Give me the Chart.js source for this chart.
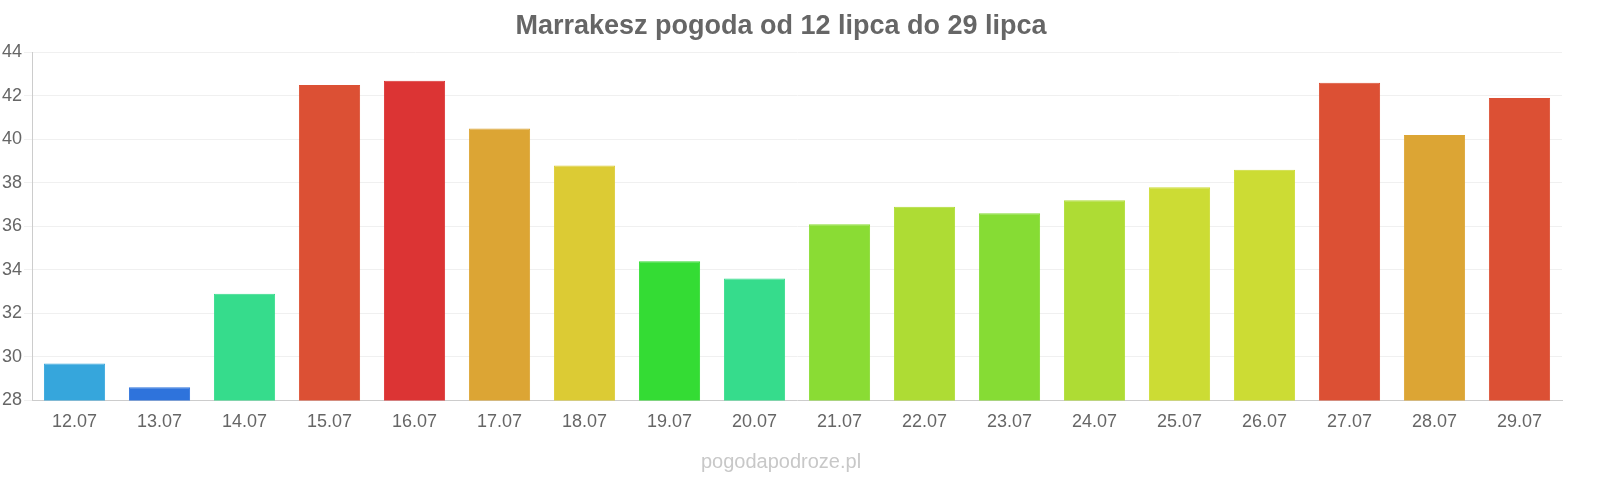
<!DOCTYPE html>
<html><head><meta charset="utf-8">
<script src="https://cdn.jsdelivr.net/npm/chart.js@4/dist/chart.umd.min.js"></script>
<style>html,body{margin:0;padding:0;background:#fff}#w{width:1600px;height:480px}</style>
</head><body><div id="w"><canvas id="c"></canvas></div>
<script>
const categories = ["12.07","13.07","14.07","15.07","16.07","17.07","18.07","19.07","20.07","21.07","22.07","23.07","24.07","25.07","26.07","27.07","28.07","29.07"];
const temps = [29.7,28.6,32.9,42.5,42.7,40.5,38.8,34.4,33.6,36.1,36.9,36.6,37.2,37.8,38.6,42.6,40.2,41.9];
const barColors = ["#36a6dc","#2e73dc","#36dc8c","#dc5034","#dc3434","#dca534","#dccb34","#34dc34","#36dc8c","#8adc34","#aedc34","#86dc34","#aedc34","#ccdc34","#ccdc34","#dc5034","#dca534","#dc5034"];
const yTicks = [28,30,32,34,36,38,40,42,44];
const titleText = "Marrakesz pogoda od 12 lipca do 29 lipca";
const footerText = "pogodapodroze.pl";
Chart.defaults.font.family = "'Liberation Sans', Arial, sans-serif";
new Chart(document.getElementById('c'), {
  type: 'bar',
  data: { labels: categories, datasets: [{ data: temps, backgroundColor: barColors, borderColor: barColors.map(c=>c), borderWidth: 1, categoryPercentage: 0.72, barPercentage: 1 }] },
  options: {
    responsive: true, maintainAspectRatio: false, animation: false,
    layout: { padding: { left: 0, right: 38, top: 0, bottom: 4 } },
    plugins: {
      legend: { display: false }, tooltip: { enabled: false },
      title: { display: true, text: titleText, color: '#666', font: { size: 27, weight: 'bold' }, padding: { top: 10, bottom: 10 } },
      subtitle: { display: true, position: 'bottom', text: footerText, color: '#c8c8c8', font: { size: 20 }, padding: { top: 14, bottom: 2 } }
    },
    scales: {
      x: { grid: { display: false }, border: { color: '#ccc' }, ticks: { color: '#666', font: { size: 18 } } },
      y: { min: 28, max: 44, afterBuildTicks: a => { a.ticks = yTicks.map(v => ({ value: v })); },
           grid: { color: '#f0f0f0' }, border: { color: '#ccc' }, ticks: { color: '#666', font: { size: 18 }, padding: 2 } }
    }
  }
});
</script></body></html>
